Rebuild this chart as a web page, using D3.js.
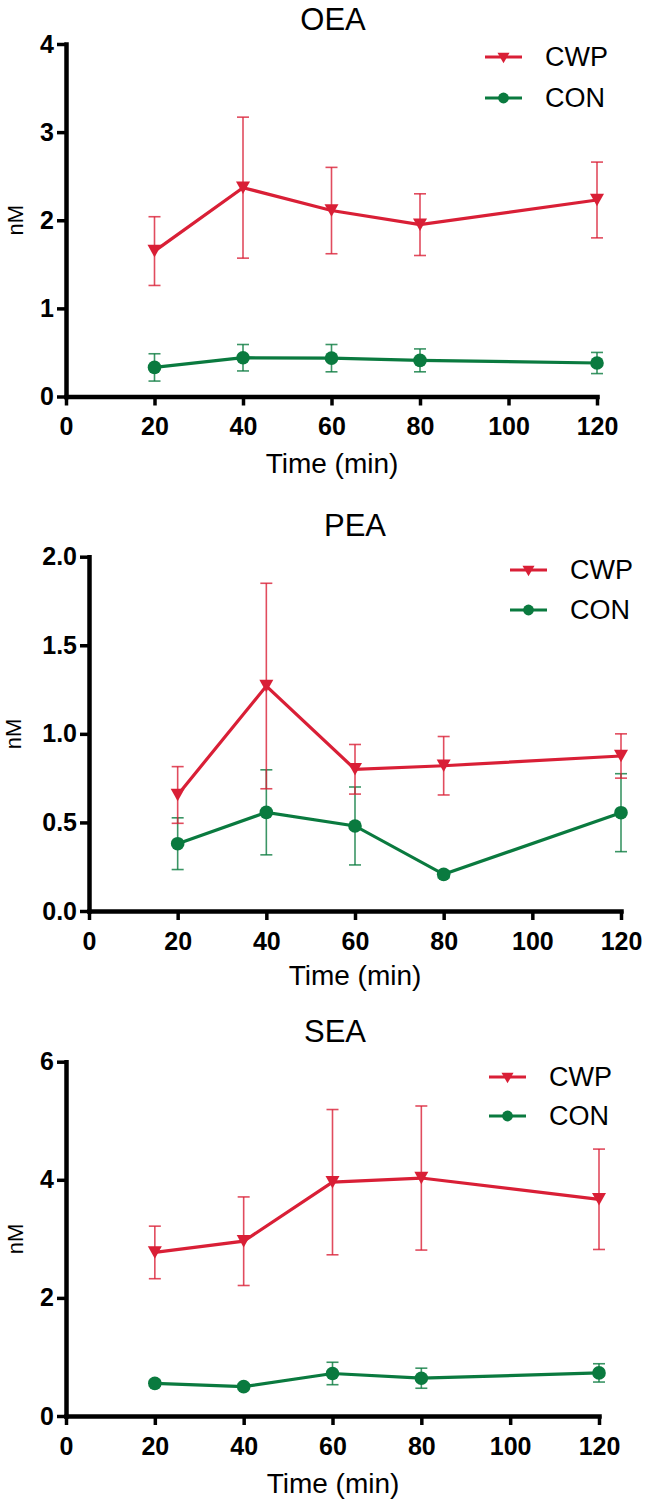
<!DOCTYPE html>
<html>
<head>
<meta charset="utf-8">
<script src="https://cdn.jsdelivr.net/npm/d3@7/dist/d3.min.js"></script>
<style>
  html, body { margin: 0; padding: 0; background: #fff; }
  svg { display: block; }
  text { font-family: "Liberation Sans", Arial, sans-serif; fill: #000; }
</style>
</head>
<body>
<svg id="chart" width="648" height="1505"></svg>
<script>
// ---------------- data ----------------
const times = [20, 40, 60, 80, 120];
const xTicks = [0, 20, 40, 60, 80, 100, 120];
const seriesNames = ["CWP", "CON"];

const oeaCWP = [1.65, 2.37, 2.11, 1.95, 2.23];
const oeaCWPErr = [0.39, 0.80, 0.49, 0.35, 0.43];
const oeaCON = [0.33, 0.44, 0.435, 0.41, 0.38];
const oeaCONErr = [0.155, 0.15, 0.155, 0.13, 0.12];
const oeaTicks = [0, 1, 2, 3, 4];

const peaCWP = [0.655, 1.27, 0.80, 0.82, 0.875];
const peaCWPErr = [0.16, 0.58, 0.14, 0.165, 0.125];
const peaCON = [0.38, 0.557, 0.48, 0.207, 0.555];
const peaCONErr = [0.146, 0.24, 0.22, 0.02, 0.22];
const peaTicks = [0, 0.5, 1.0, 1.5, 2.0];

const seaCWP = [2.77, 2.96, 3.96, 4.03, 3.67];
const seaCWPErr = [0.445, 0.75, 1.23, 1.22, 0.85];
const seaCON = [0.553, 0.497, 0.72, 0.64, 0.73];
const seaCONErr = [0.05, 0.05, 0.19, 0.17, 0.155];
const seaTicks = [0, 2, 4, 6];

// ---------------- layout ----------------
const RED = "#d91f36", GREEN = "#0a7a3f";
const panels = [
  { title: "OEA", cwp: oeaCWP, cwpErr: oeaCWPErr, con: oeaCON, conErr: oeaCONErr, ticks: oeaTicks, fmt: d3.format("d"),
    left: 66, right: 597, top: 44, bottom: 396.5, titleX: 333, titleY: 30, legX: 485, legY: [57, 98], nmX: 15, xlabX: 332, xlabY: 473 },
  { title: "PEA", cwp: peaCWP, cwpErr: peaCWPErr, con: peaCON, conErr: peaCONErr, ticks: peaTicks, fmt: d3.format(".1f"),
    left: 89, right: 621, top: 556.7, bottom: 911, titleX: 355, titleY: 536, legX: 510, legY: [570, 610], nmX: 13, xlabX: 355, xlabY: 985 },
  { title: "SEA", cwp: seaCWP, cwpErr: seaCWPErr, con: seaCON, conErr: seaCONErr, ticks: seaTicks, fmt: d3.format("d"),
    left: 66, right: 599, top: 1061.7, bottom: 1416, titleX: 335, titleY: 1042, legX: 489, legY: [1077, 1116], nmX: 15, xlabX: 333, xlabY: 1493 }
];

const svg = d3.select("#chart");
const triPath = (w, h) => `M${-w/2},${-h/2}L${w/2},${-h/2}L0,${h/2}Z`;

panels.forEach(p => {
  const x = d3.scaleLinear().domain([0, 120]).range([p.left, p.right]);
  const y = d3.scaleLinear().domain([0, d3.max(p.ticks)]).range([p.bottom, p.top]);
  const g = svg.append("g");

  // title
  g.append("text").attr("x", p.titleX).attr("y", p.titleY).attr("text-anchor", "middle")
    .style("font-size", "31px").text(p.title);

  // axes
  const xa = g.append("g").attr("transform", `translate(0,${p.bottom})`)
    .call(d3.axisBottom(x).tickValues(xTicks).tickSize(9).tickSizeOuter(0).tickPadding(12));
  const ya = g.append("g").attr("transform", `translate(${p.left},0)`)
    .call(d3.axisLeft(y).tickValues(p.ticks).tickFormat(p.fmt).tickSize(9).tickSizeOuter(0).tickPadding(3));
  [xa, ya].forEach(a => {
    a.select(".domain").attr("stroke", "#000").attr("stroke-width", 4.5).attr("stroke-linecap", "square");
    a.selectAll(".tick line").attr("stroke", "#000").attr("stroke-width", 3.5);
    a.selectAll(".tick text").style("font-size", "25px").style("font-weight", "bold")
      .style("font-family", "'Liberation Sans', Arial, sans-serif");
  });

  // axis labels
  g.append("text").attr("x", p.xlabX).attr("y", p.xlabY).attr("text-anchor", "middle")
    .style("font-size", "28px").text("Time (min)");
  g.append("text").attr("transform", `translate(${p.nmX},${(p.top + p.bottom) / 2}) rotate(-90)`)
    .attr("text-anchor", "middle").attr("dominant-baseline", "central")
    .style("font-size", "22px").text("nM");

  const series = [
    { name: seriesNames[0], vals: p.cwp, errs: p.cwpErr, color: RED, shape: "tri" },
    { name: seriesNames[1], vals: p.con, errs: p.conErr, color: GREEN, shape: "circ" }
  ];

  series.slice().reverse().forEach(s => {
    const pts = times.map((t, i) => ({ t, v: s.vals[i], e: s.errs[i] }));
    const sg = g.append("g");
    // error bars
    const eb = sg.selectAll(".eb").data(pts).enter().append("g")
      .attr("stroke", s.color).attr("stroke-width", 1.6).attr("stroke-opacity", 0.8);
    eb.append("line").attr("x1", d => x(d.t)).attr("x2", d => x(d.t))
      .attr("y1", d => y(d.v + d.e)).attr("y2", d => y(d.v - d.e));
    eb.append("line").attr("x1", d => x(d.t) - 6).attr("x2", d => x(d.t) + 6)
      .attr("y1", d => y(d.v + d.e)).attr("y2", d => y(d.v + d.e));
    eb.append("line").attr("x1", d => x(d.t) - 6).attr("x2", d => x(d.t) + 6)
      .attr("y1", d => y(d.v - d.e)).attr("y2", d => y(d.v - d.e));
    // line
    sg.append("path").datum(pts)
      .attr("d", d3.line().x(d => x(d.t)).y(d => y(d.v)))
      .attr("fill", "none").attr("stroke", s.color).attr("stroke-width", 3.2);
    // markers
    if (s.shape === "tri") {
      sg.selectAll(".m").data(pts).enter().append("path")
        .attr("transform", d => `translate(${x(d.t)},${y(d.v)})`)
        .attr("d", triPath(14, 12.5)).attr("fill", s.color);
    } else {
      sg.selectAll(".m").data(pts).enter().append("circle")
        .attr("cx", d => x(d.t)).attr("cy", d => y(d.v)).attr("r", 6.8).attr("fill", s.color);
    }
  });

  // legend
  series.forEach((s, i) => {
    const ly = p.legY[i];
    const lg = g.append("g");
    lg.append("line").attr("x1", p.legX).attr("x2", p.legX + 37).attr("y1", ly).attr("y2", ly)
      .attr("stroke", s.color).attr("stroke-width", 3.2);
    if (s.shape === "tri") {
      lg.append("path").attr("transform", `translate(${p.legX + 18.5},${ly + 1})`)
        .attr("d", triPath(12, 10.5)).attr("fill", s.color);
    } else {
      lg.append("circle").attr("cx", p.legX + 18.5).attr("cy", ly).attr("r", 5.4).attr("fill", s.color);
    }
    lg.append("text").attr("x", p.legX + 60).attr("y", ly).attr("dominant-baseline", "central")
      .style("font-size", "27px").text(s.name);
  });
});
</script>
</body>
</html>
